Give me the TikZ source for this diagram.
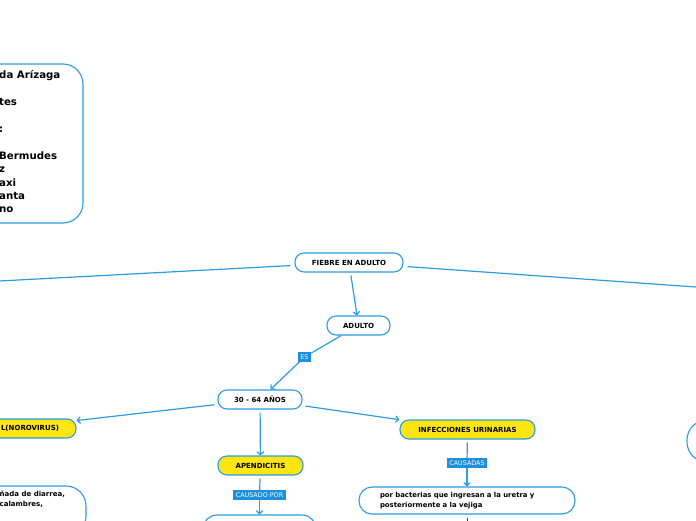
\documentclass[tikz,border=0pt]{standalone}
\usepackage{fontspec}
\setmainfont{DejaVu Sans}
\usetikzlibrary{arrows.meta, positioning}
\definecolor{mBlue}{HTML}{2C9BE0}
\definecolor{mLabel}{HTML}{1C8FDD}
\definecolor{mYellow}{HTML}{FFE512}
\definecolor{mDark}{HTML}{8B1A1A}
\tikzset{
  topic/.style={draw=mBlue, line width=1.1pt, rounded corners=9pt, fill=white,
                minimum height=19pt, inner sep=0pt,
                font=\fontsize{7}{8}\selectfont\bfseries},
  hot/.style={topic, fill=mYellow},
  rel/.style={fill=mLabel, text=white, inner xsep=2.5pt, inner ysep=2.2pt,
              font=\fontsize{6.4}{7}\selectfont},
  link/.style={mBlue, line width=1.2pt},
  arr/.style={link, -{Straight Barb[length=3pt, width=6.5pt]}},
}

\begin{document}
\begin{tikzpicture}[x=1pt, y=-1pt]
    \useasboundingbox (0,0) rectangle (696,520);
    \clip (0,0) rectangle (696,520);
    % boxes cut by the frame
    \node[topic, rounded corners=20pt, minimum width=233pt, minimum height=159pt] (info) at (-33.5,143.5) {};
    \node[anchor=north west, align=left, inner sep=0pt,
          font=\fontsize{10.2}{13.4}\selectfont\bfseries] (names) at (-1,70.5)
      {da Arízaga\\[13.4pt]tes\\[13.4pt]:\\[13.4pt]Bermudes\\z\\axi\\anta\\no};
    \node[topic, rounded corners=20pt, minimum width=236pt, minimum height=50pt] (viral) at (-32,511) {};
    \node[anchor=north west, align=left, inner sep=0pt,
          font=\fontsize{7}{9.5}\selectfont\bfseries] (viraltxt) at (-0.5,491)
      {ñada de diarrea,\\ calambres,};
    \node[topic, rounded corners=20pt, minimum width=80pt, minimum height=42pt] (rbox) at (727,441) {};
    \coordinate (west) at (-20,282);
    \coordinate (east) at (716,288.4);
    \coordinate (down) at (467,540);

    \node[topic, minimum width=108pt] (root) at (349,262.5) {FIEBRE EN ADULTO};
    \node[topic, minimum width=63pt] (adult) at (358.5,325.5) {ADULTO};
    \node[rel] (es) at (304.5,357) {ES};
    \node[topic, minimum width=84pt] (age) at (260,399.5) {30 - 64 AÑOS};
    \node[hot, text width=104pt, inner xsep=17pt, align=right] (noro) at (7,428.5) {L(NOROVIRUS)};
    \node[hot, minimum width=85pt] (apend) at (260.5,465.5) {APENDICITIS};
    \node[rel] (causado) at (259.5,495) {CAUSADO POR};
    \node[topic, rounded corners=14pt, minimum width=113pt, minimum height=30pt] (apcause) at (259.5,530) {};
    \node[hot, minimum width=135pt] (uri) at (467.5,429.5) {INFECCIONES URINARIAS};
    \node[rel] (causadas) at (467,463) {CAUSADAS};
    \node[topic, rounded corners=13pt, text width=174pt, inner xsep=21pt, minimum height=27pt,
          align=left, font=\fontsize{6.9}{10}\selectfont\bfseries] (bact) at (467,500.5)
      {por bacterias que ingresan a la uretra y\\posteriormente a la vejiga};

    \draw[link, shorten <=4pt] (root) -- (west);
    \draw[link, shorten <=4pt] (root) -- (east);
    \draw[arr, shorten <=3pt] (root) -- (adult);
    \draw[link] (adult) -- (es);
    \draw[arr] (es) -- (age);
    \draw[arr, shorten <=3pt] (age) -- (noro);
    \draw[arr, shorten <=3pt] (age) -- (apend);
    \draw[arr, shorten <=3pt] (age) -- (uri);
    \draw[link, shorten <=3pt] (apend) -- (causado);
    \draw[arr] (causado) -- (apcause);
    \draw[link, shorten <=3pt] (uri) -- (causadas);
    \draw[arr] (causadas) -- (bact);
    \draw[mDark, line width=1pt, shorten <=3pt] (bact) -- (down);
\end{tikzpicture}
\end{document}
